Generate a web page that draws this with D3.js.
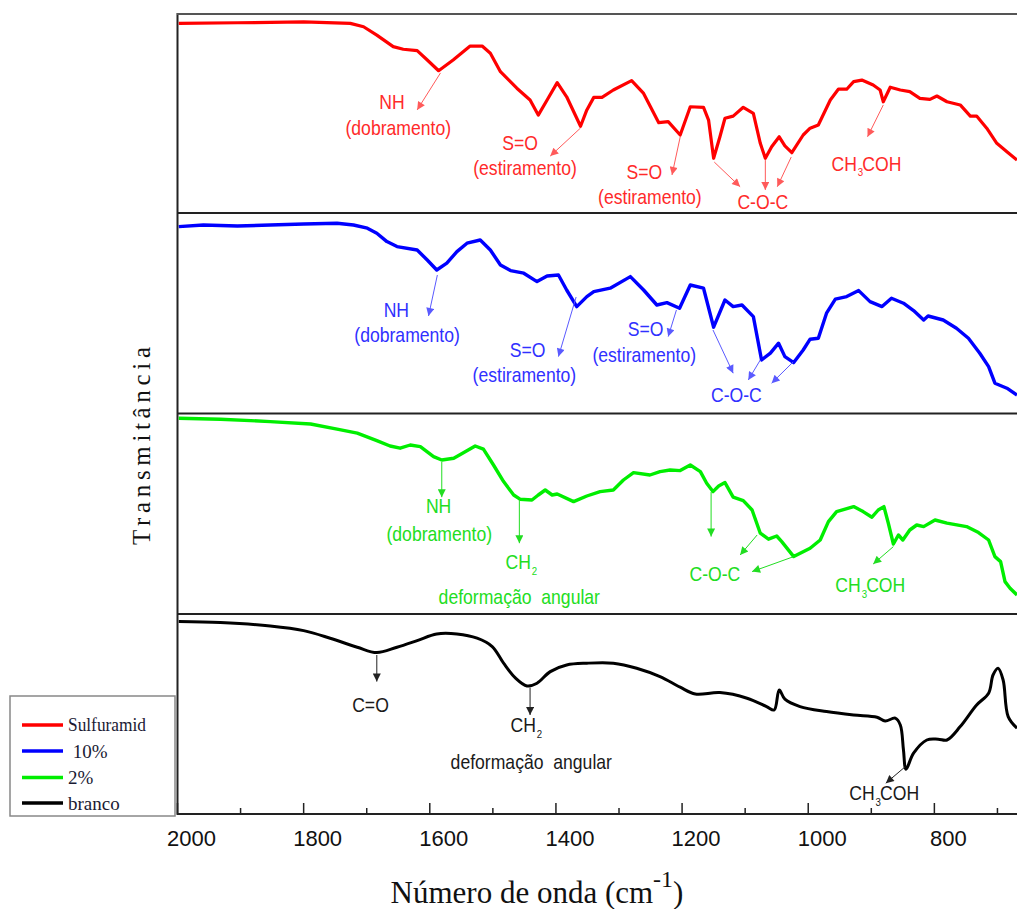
<!DOCTYPE html>
<html><head><meta charset="utf-8">
<script src="https://cdn.jsdelivr.net/npm/d3@7"></script>
<style>body{margin:0;background:#fff} svg{display:block}</style>
</head><body><svg id="c" width="1017" height="909"></svg>
<script>
// ---------- DATA ----------
const xTicks = [2000, 1800, 1600, 1400, 1200, 1000, 800];
const xMinorTicks = [1900, 1700, 1500, 1300, 1100, 900, 700];
const seriesNames = ["Sulfuramid", " 10%", "2%", "branco"];

const sulfuramidWn = [1998,1905,1800,1726,1705,1684,1658,1642,1620,1604,1586,1563,1536,1517,1504,1488,1462,1441,1428,1414,1398,1383,1361,1351,1340,1327,1309,1280,1261,1237,1222,1203,1187,1166,1158,1150,1140,1132,1119,1103,1087,1076,1068,1058,1046,1037,1026,1008,997,984,965,952,939,928,915,897,886,881,870,854,839,823,807,796,780,759,743,733,717,701,685,669];
const sulfuramidT = [95.3,95.6,96.0,95.3,93.6,89.4,83.6,82.3,81.6,76.9,71.5,76.9,83.9,83.9,80.3,71.0,62.7,56.8,49.2,56.8,65.5,58.4,43.6,51.8,58.1,58.1,61.8,66.5,60.1,45.4,45.9,39.2,53.4,53.1,46.7,27.5,38.3,47.6,48.7,53.1,50.1,35.0,27.5,33.3,38.3,33.7,30.3,39.2,42.6,44.2,56.8,62.3,62.2,66.0,66.8,64.3,61.8,55.9,63.2,61.8,61.0,57.6,57.1,58.8,55.9,54.3,48.7,48.7,42.6,35.0,30.8,26.6];

const p10Wn = [1998,1959,1905,1853,1800,1747,1721,1699,1684,1668,1652,1620,1604,1589,1573,1557,1541,1520,1504,1488,1472,1451,1430,1414,1396,1383,1367,1351,1340,1314,1282,1261,1240,1224,1204,1187,1166,1150,1132,1119,1105,1087,1074,1060,1047,1037,1023,1008,997,984,971,957,939,920,902,883,868,849,833,817,810,786,765,746,728,714,704,685,669];
const p10T = [93.2,94.0,93.5,94.0,94.5,94.9,94.0,92.4,89.9,85.7,83.2,81.5,76.5,71.5,74.9,80.7,84.9,86.5,81.5,74.0,71.2,69.9,65.7,68.5,69.0,61.5,53.2,58.2,60.7,62.4,68.2,61.5,54.0,55.2,52.4,64.0,62.4,42.9,56.5,53.2,54.0,48.2,26.5,29.9,34.9,28.2,25.2,31.5,36.9,37.4,49.9,56.9,58.2,61.2,55.7,53.2,57.4,54.9,51.2,46.5,48.5,46.5,42.4,37.4,29.9,23.2,14.9,12.4,9.0];

const p2Wn = [1998,1932,1853,1789,1747,1715,1684,1663,1647,1631,1615,1594,1581,1562,1546,1528,1515,1499,1483,1467,1457,1438,1428,1417,1406,1398,1372,1351,1330,1309,1293,1277,1251,1235,1219,1203,1187,1171,1161,1151,1142,1132,1119,1103,1089,1076,1063,1050,1042,1023,997,981,968,955,928,913,899,889,880,873,865,857,850,839,828,817,799,780,749,730,714,704,695,688,680,669];
const p2T = [97.9,97.4,96.2,95.0,92.4,90.4,86.7,84.0,82.9,84.5,83.7,78.7,77.0,77.9,80.7,84.0,82.4,74.5,66.2,59.5,57.4,57.0,59.5,62.0,59.5,60.0,56.2,59.0,61.2,62.0,67.0,70.7,69.5,71.2,72.0,71.7,74.5,71.2,65.4,61.2,64.0,65.7,58.4,56.7,52.0,40.4,37.4,39.0,36.2,28.7,32.9,37.0,46.2,51.2,53.7,51.2,48.4,52.0,53.7,45.4,35.0,39.5,37.0,42.0,44.5,43.7,47.0,45.4,43.7,40.7,37.0,28.7,26.2,16.2,12.9,9.5];

const brancoWn = [1998,1932,1853,1800,1758,1715,1684,1652,1620,1589,1557,1525,1501,1483,1464,1446,1430,1409,1383,1351,1309,1272,1235,1203,1179,1140,1097,1066,1054,1046,1037,1013,971,928,891,878,862,854,849,845,833,812,794,780,759,733,714,707,699,691,683,669];
const brancoT = [96.2,95.7,94.0,91.7,87.9,83.4,80.7,83.4,86.7,90.0,90.0,87.9,83.7,75.4,67.9,64.0,65.4,71.2,74.5,75.4,75.4,72.9,68.7,63.4,60.0,60.7,57.9,53.7,52.0,62.0,57.4,53.7,51.2,49.5,48.4,46.5,47.9,44.5,32.0,22.4,30.4,37.0,37.4,37.0,43.7,54.5,60.4,69.5,72.9,67.0,48.7,42.9];

// annotation texts: [text, wavenumber, transmittance, anchor, subscript, rest]
const sulfuramidLabels = [
  ["NH",1660,56.1,"middle"],["(dobramento)",1650,42.7,"middle"],
  ["S=O",1457,35.2,"middle"],["(estiramento)",1449,22.6,"middle"],
  ["S=O",1260,20.8,"middle"],["(estiramento)",1251,8.2,"middle"],
  ["C-O-C",1072,5.7,"middle"],
  ["CH",963,25.0,"start","3","COH"]
];
const sulfuramidArrows = [[1583,70.4,1620,51.8],[1361,42.7,1409,28.6],[1203,38.2,1216,19.1],
  [1149,25.6,1108,13.2],[1068,26.6,1068,11.6],[1027,28.1,1049,13.2],[881,54.3,906,38.3]];

const p10Labels = [
  ["NH",1653,51.5,"middle"],["(dobramento)",1636,39,"middle"],
  ["S=O",1445,31.9,"middle"],["(estiramento)",1450,19,"middle"],
  ["S=O",1258,42.4,"middle"],["(estiramento)",1260,29,"middle"],
  ["C-O-C",1114,9,"middle"]
];
const p10Arrows = [[1588,69,1602,48.5],[1368,58,1396,28.2],[1209,51.5,1222,38.2],
  [1151,41.5,1119,19.9],[1076,26.5,1095,16.5],[1024,25.5,1058,14.9]];

const p2Labels = [
  ["NH",1586,54,"middle"],["(dobramento)",1585,40,"middle"],
  ["CH",1480,26.2,"start","2",""],["deformação  angular",1586,8.7,"start"],
  ["C-O-C",1148,20.4,"middle"],
  ["CH",957,14.5,"start","3","COH"]
];
const p2Arrows = [[1581,76,1581,58.4],[1458,57,1458,35.4],[1154,61,1154,38.7],
  [1081,39.5,1108,29.5],[1023,28.7,1089,21.2],[865,33.7,897,25]];

const brancoLabels = [
  ["C=O",1694,54.5,"middle"],
  ["CH",1472,44.5,"start","2",""],["deformação  angular",1567,26.2,"start"],
  ["CH",935,10.7,"start","3","COH"]
];
const brancoArrows = [[1684,79.5,1684,66.2],[1441,63,1441,49.5],[846,23.7,877,15.4]];

// ---------- LAYOUT ----------
const svg = d3.select("#c");
const x = d3.scaleLinear().domain([2000, 669]).range([177.5, 1017]);
const panels = [
  {wn:sulfuramidWn, t:sulfuramidT, labels:sulfuramidLabels, arrows:sulfuramidArrows, top:14, bottom:213,
   color:"#ff0000", textColor:"#ff2a2a", arrowColor:"#ff5a5a", width:3.2, curve:d3.curveLinear},
  {wn:p10Wn, t:p10T, labels:p10Labels, arrows:p10Arrows, top:213, bottom:413,
   color:"#0000ff", textColor:"#3030ff", arrowColor:"#5a5aff", width:3.4, curve:d3.curveLinear},
  {wn:p2Wn, t:p2T, labels:p2Labels, arrows:p2Arrows, top:414, bottom:614,
   color:"#00ee00", textColor:"#22dd22", arrowColor:"#22dd22", width:3.4, curve:d3.curveLinear},
  {wn:brancoWn, t:brancoT, labels:brancoLabels, arrows:brancoArrows, top:614, bottom:814,
   color:"#000000", textColor:"#1a1a1a", arrowColor:"#222222", width:3.0, curve:d3.curveCatmullRom.alpha(0.5)}
];

const defs = svg.append("defs");
panels.forEach((p,i)=>{
  defs.append("marker").attr("id","ah"+i).attr("viewBox","0 0 10 10")
    .attr("refX",10).attr("refY",5).attr("markerWidth",11).attr("markerHeight",8)
    .attr("markerUnits","userSpaceOnUse").attr("orient","auto")
    .append("path").attr("d","M0,0L10,5L0,10Z").attr("fill",p.arrowColor);
});

// frame
svg.append("line").attr("x1",177.5).attr("x2",177.5).attr("y1",13).attr("y2",815)
  .attr("stroke","#222").attr("stroke-width",2);
[14,213,413.5,614,814].forEach((yy,i)=>{
  svg.append("line").attr("x1",177).attr("x2",1017).attr("y1",yy).attr("y2",yy)
    .attr("stroke", i===0 ? "#555" : "#222").attr("stroke-width",2);
});

panels.forEach((p,i)=>{
  const y = d3.scaleLinear().domain([0,100]).range([p.bottom, p.top]);
  const pts = p.wn.map((w,k)=>[w,p.t[k]]);
  const line = d3.line().x(d=>x(d[0])).y(d=>y(d[1])).curve(p.curve);
  svg.append("path").attr("d",line(pts)).attr("fill","none")
    .attr("stroke",p.color).attr("stroke-width",p.width).attr("stroke-linejoin","round");

  p.arrows.forEach(a=>{
    svg.append("line").attr("x1",x(a[0])).attr("y1",y(a[1])).attr("x2",x(a[2])).attr("y2",y(a[3]))
      .attr("stroke",p.arrowColor).attr("stroke-width",1).attr("marker-end","url(#ah"+i+")");
  });

  p.labels.forEach(l=>{
    const g = svg.append("g").attr("transform",`translate(${x(l[1])},${y(l[2])}) scale(0.88,1)`);
    const t = g.append("text").attr("text-anchor",l[3]).attr("dominant-baseline","central")
      .attr("font-family","'Liberation Sans', Arial, sans-serif").attr("font-size",20)
      .attr("fill",p.textColor).style("white-space","pre");
    t.append("tspan").text(l[0]);
    if (l[4]) {
      t.append("tspan").attr("font-size",11).attr("dy",9).attr("dx",1).text(l[4]);
      if (l[5]) t.append("tspan").attr("font-size",20).attr("dy",-9).attr("dx",-1).text(l[5]);
    }
  });
});

// x axis ticks (inward)
xTicks.forEach(v=>{
  svg.append("line").attr("x1",x(v)).attr("x2",x(v)).attr("y1",814).attr("y2",803)
    .attr("stroke","#222").attr("stroke-width",1.5);
  svg.append("text").attr("x",x(v)+14).attr("y",846).attr("text-anchor","middle")
    .attr("font-family","'Liberation Sans', Arial, sans-serif").attr("font-size",22)
    .attr("fill","#111").text(v);
});
xMinorTicks.forEach(v=>{
  svg.append("line").attr("x1",x(v)).attr("x2",x(v)).attr("y1",814).attr("y2",808)
    .attr("stroke","#222").attr("stroke-width",1.5);
});

// axis titles
const xt = svg.append("text").attr("x",537).attr("y",903).attr("text-anchor","middle")
  .attr("font-family","'Liberation Serif', 'Times New Roman', serif").attr("font-size",31).attr("fill","#111");
xt.append("tspan").text("Número de onda (cm");
xt.append("tspan").attr("font-size",24).attr("dy",-16).text("-1");
xt.append("tspan").attr("dy",16).text(")");

svg.append("text").attr("transform","translate(141,446) rotate(-90)")
  .attr("text-anchor","middle").attr("dominant-baseline","central")
  .attr("font-family","'Liberation Serif', 'Times New Roman', serif").attr("font-size",25)
  .attr("textLength",198).attr("lengthAdjust","spacing").attr("fill","#111").text("Transmitância");

// legend
svg.append("rect").attr("x",10).attr("y",696).attr("width",165).attr("height",120)
  .attr("fill","#fff").attr("stroke","#888").attr("stroke-width",1.5);
const legY = [725, 751, 777.5, 803];
seriesNames.forEach((n,i)=>{
  svg.append("line").attr("x1",22).attr("x2",63).attr("y1",legY[i]).attr("y2",legY[i])
    .attr("stroke",panels[i].color).attr("stroke-width",3.5);
  const t = svg.append("text").attr("x",68).attr("y",legY[i]).attr("dominant-baseline","central")
    .attr("font-family","'Liberation Serif', 'Times New Roman', serif").attr("font-size",19)
    .attr("fill","#1a1a33").style("white-space","pre").text(n);
  if (i===0) t.attr("textLength",78).attr("lengthAdjust","spacingAndGlyphs").attr("font-size",18);
});
</script></body></html>
